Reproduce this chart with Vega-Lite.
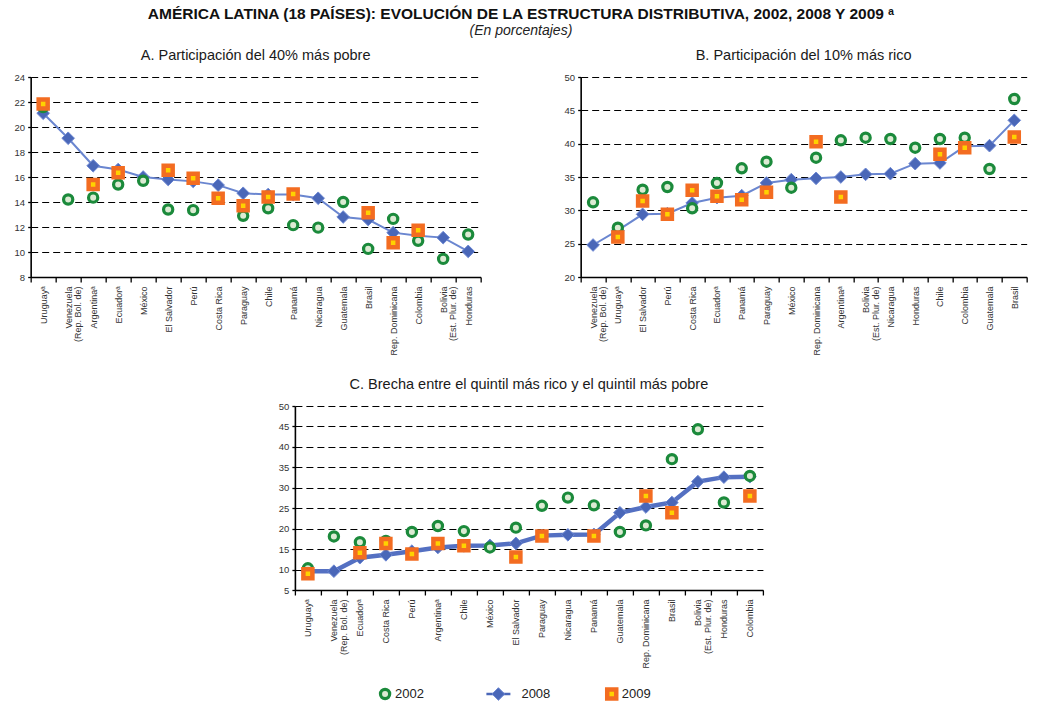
{
  "$schema": "https://vega.github.io/schema/vega-lite/v6.json",
  "background": "white",
  "padding": {"left": 14, "top": 7, "right": 5, "bottom": 0},
  "title": {
    "text": "AMÉRICA LATINA (18 PAÍSES): EVOLUCIÓN DE LA ESTRUCTURA DISTRIBUTIVA, 2002, 2008 Y 2009 ᵃ",
    "subtitle": "(En porcentajes)",
    "font": "Liberation Sans",
    "fontSize": 15.5,
    "fontWeight": "bold",
    "color": "#111",
    "subtitleFont": "Liberation Sans",
    "subtitleFontSize": 14,
    "subtitleFontStyle": "italic",
    "subtitleColor": "#222",
    "subtitlePadding": 1,
    "anchor": "middle",
    "offset": 10
  },
  "data": {
    "values": [
      {"p": "A", "c": "Uruguayᵃ", "y": "2008", "v": 21.1},
      {"p": "A", "c": "Venezuela|(Rep. Bol. de)", "y": "2008", "v": 19.1},
      {"p": "A", "c": "Argentinaᵃ", "y": "2008", "v": 16.9},
      {"p": "A", "c": "Ecuadorᵃ", "y": "2008", "v": 16.6},
      {"p": "A", "c": "México", "y": "2008", "v": 16.0},
      {"p": "A", "c": "El Salvador", "y": "2008", "v": 15.8},
      {"p": "A", "c": "Perú", "y": "2008", "v": 15.65},
      {"p": "A", "c": "Costa Rica", "y": "2008", "v": 15.35},
      {"p": "A", "c": "Paraguay", "y": "2008", "v": 14.7},
      {"p": "A", "c": "Chile", "y": "2008", "v": 14.6},
      {"p": "A", "c": "Panamá", "y": "2008", "v": 14.6},
      {"p": "A", "c": "Nicaragua", "y": "2008", "v": 14.3},
      {"p": "A", "c": "Guatemala", "y": "2008", "v": 12.8},
      {"p": "A", "c": "Brasil", "y": "2008", "v": 12.6},
      {"p": "A", "c": "Rep. Dominicana", "y": "2008", "v": 11.55},
      {"p": "A", "c": "Colombia", "y": "2008", "v": 11.3},
      {"p": "A", "c": "Bolivia|(Est. Plur. de)", "y": "2008", "v": 11.15},
      {"p": "A", "c": "Honduras", "y": "2008", "v": 10.05},
      {"p": "B", "c": "Venezuela|(Rep. Bol. de)", "y": "2008", "v": 24.8},
      {"p": "B", "c": "Uruguayᵃ", "y": "2008", "v": 27.0},
      {"p": "B", "c": "El Salvador", "y": "2008", "v": 29.4},
      {"p": "B", "c": "Perú", "y": "2008", "v": 29.5},
      {"p": "B", "c": "Costa Rica", "y": "2008", "v": 31.1},
      {"p": "B", "c": "Ecuadorᵃ", "y": "2008", "v": 31.9},
      {"p": "B", "c": "Panamá", "y": "2008", "v": 32.2},
      {"p": "B", "c": "Paraguay", "y": "2008", "v": 34.1},
      {"p": "B", "c": "México", "y": "2008", "v": 34.6},
      {"p": "B", "c": "Rep. Dominicana", "y": "2008", "v": 34.8},
      {"p": "B", "c": "Argentinaᵃ", "y": "2008", "v": 35.0},
      {"p": "B", "c": "Bolivia|(Est. Plur. de)", "y": "2008", "v": 35.4},
      {"p": "B", "c": "Nicaragua", "y": "2008", "v": 35.5},
      {"p": "B", "c": "Honduras", "y": "2008", "v": 37.0},
      {"p": "B", "c": "Chile", "y": "2008", "v": 37.1},
      {"p": "B", "c": "Colombia", "y": "2008", "v": 39.6},
      {"p": "B", "c": "Guatemala", "y": "2008", "v": 39.7},
      {"p": "B", "c": "Brasil", "y": "2008", "v": 43.5},
      {"p": "C", "c": "Uruguayᵃ", "y": "2008", "v": 9.6},
      {"p": "C", "c": "Venezuela|(Rep. Bol. de)", "y": "2008", "v": 9.6},
      {"p": "C", "c": "Ecuadorᵃ", "y": "2008", "v": 12.9},
      {"p": "C", "c": "Costa Rica", "y": "2008", "v": 13.6},
      {"p": "C", "c": "Perú", "y": "2008", "v": 14.5},
      {"p": "C", "c": "Argentinaᵃ", "y": "2008", "v": 15.4},
      {"p": "C", "c": "Chile", "y": "2008", "v": 15.8},
      {"p": "C", "c": "México", "y": "2008", "v": 15.9},
      {"p": "C", "c": "El Salvador", "y": "2008", "v": 16.4},
      {"p": "C", "c": "Paraguay", "y": "2008", "v": 18.3},
      {"p": "C", "c": "Nicaragua", "y": "2008", "v": 18.5},
      {"p": "C", "c": "Panamá", "y": "2008", "v": 18.6},
      {"p": "C", "c": "Guatemala", "y": "2008", "v": 23.9},
      {"p": "C", "c": "Rep. Dominicana", "y": "2008", "v": 25.3},
      {"p": "C", "c": "Brasil", "y": "2008", "v": 26.4},
      {"p": "C", "c": "Bolivia|(Est. Plur. de)", "y": "2008", "v": 31.5},
      {"p": "C", "c": "Honduras", "y": "2008", "v": 32.6},
      {"p": "C", "c": "Colombia", "y": "2008", "v": 32.7},

      {"p": "A", "c": "Uruguayᵃ", "y": "2002", "v": 21.6},
      {"p": "A", "c": "Venezuela|(Rep. Bol. de)", "y": "2002", "v": 14.2},
      {"p": "A", "c": "Argentinaᵃ", "y": "2002", "v": 14.35},
      {"p": "A", "c": "Ecuadorᵃ", "y": "2002", "v": 15.4},
      {"p": "A", "c": "México", "y": "2002", "v": 15.7},
      {"p": "A", "c": "El Salvador", "y": "2002", "v": 13.4},
      {"p": "A", "c": "Perú", "y": "2002", "v": 13.35},
      {"p": "A", "c": "Paraguay", "y": "2002", "v": 12.9},
      {"p": "A", "c": "Chile", "y": "2002", "v": 13.5},
      {"p": "A", "c": "Panamá", "y": "2002", "v": 12.15},
      {"p": "A", "c": "Nicaragua", "y": "2002", "v": 11.95},
      {"p": "A", "c": "Guatemala", "y": "2002", "v": 14.0},
      {"p": "A", "c": "Brasil", "y": "2002", "v": 10.25},
      {"p": "A", "c": "Rep. Dominicana", "y": "2002", "v": 12.65},
      {"p": "A", "c": "Colombia", "y": "2002", "v": 10.9},
      {"p": "A", "c": "Bolivia|(Est. Plur. de)", "y": "2002", "v": 9.45},
      {"p": "A", "c": "Honduras", "y": "2002", "v": 11.4},
      {"p": "B", "c": "Venezuela|(Rep. Bol. de)", "y": "2002", "v": 31.2},
      {"p": "B", "c": "Uruguayᵃ", "y": "2002", "v": 27.4},
      {"p": "B", "c": "El Salvador", "y": "2002", "v": 33.1},
      {"p": "B", "c": "Perú", "y": "2002", "v": 33.5},
      {"p": "B", "c": "Costa Rica", "y": "2002", "v": 30.3},
      {"p": "B", "c": "Ecuadorᵃ", "y": "2002", "v": 34.1},
      {"p": "B", "c": "Panamá", "y": "2002", "v": 36.3},
      {"p": "B", "c": "Paraguay", "y": "2002", "v": 37.3},
      {"p": "B", "c": "México", "y": "2002", "v": 33.4},
      {"p": "B", "c": "Rep. Dominicana", "y": "2002", "v": 37.9},
      {"p": "B", "c": "Argentinaᵃ", "y": "2002", "v": 40.5},
      {"p": "B", "c": "Bolivia|(Est. Plur. de)", "y": "2002", "v": 40.9},
      {"p": "B", "c": "Nicaragua", "y": "2002", "v": 40.7},
      {"p": "B", "c": "Honduras", "y": "2002", "v": 39.4},
      {"p": "B", "c": "Chile", "y": "2002", "v": 40.7},
      {"p": "B", "c": "Colombia", "y": "2002", "v": 40.9},
      {"p": "B", "c": "Guatemala", "y": "2002", "v": 36.2},
      {"p": "B", "c": "Brasil", "y": "2002", "v": 46.7},
      {"p": "C", "c": "Uruguayᵃ", "y": "2002", "v": 10.3},
      {"p": "C", "c": "Venezuela|(Rep. Bol. de)", "y": "2002", "v": 18.1},
      {"p": "C", "c": "Ecuadorᵃ", "y": "2002", "v": 16.7},
      {"p": "C", "c": "Costa Rica", "y": "2002", "v": 17.0},
      {"p": "C", "c": "Perú", "y": "2002", "v": 19.2},
      {"p": "C", "c": "Argentinaᵃ", "y": "2002", "v": 20.65},
      {"p": "C", "c": "Chile", "y": "2002", "v": 19.4},
      {"p": "C", "c": "México", "y": "2002", "v": 15.4},
      {"p": "C", "c": "El Salvador", "y": "2002", "v": 20.25},
      {"p": "C", "c": "Paraguay", "y": "2002", "v": 25.6},
      {"p": "C", "c": "Nicaragua", "y": "2002", "v": 27.6},
      {"p": "C", "c": "Panamá", "y": "2002", "v": 25.7},
      {"p": "C", "c": "Guatemala", "y": "2002", "v": 19.2},
      {"p": "C", "c": "Rep. Dominicana", "y": "2002", "v": 20.8},
      {"p": "C", "c": "Brasil", "y": "2002", "v": 37.0},
      {"p": "C", "c": "Bolivia|(Est. Plur. de)", "y": "2002", "v": 44.3},
      {"p": "C", "c": "Honduras", "y": "2002", "v": 26.4},
      {"p": "C", "c": "Colombia", "y": "2002", "v": 32.9},

      {"p": "A", "c": "Uruguayᵃ", "y": "2009", "v": 21.85},
      {"p": "A", "c": "Argentinaᵃ", "y": "2009", "v": 15.4},
      {"p": "A", "c": "Ecuadorᵃ", "y": "2009", "v": 16.35},
      {"p": "A", "c": "El Salvador", "y": "2009", "v": 16.55},
      {"p": "A", "c": "Perú", "y": "2009", "v": 15.9},
      {"p": "A", "c": "Costa Rica", "y": "2009", "v": 14.3},
      {"p": "A", "c": "Paraguay", "y": "2009", "v": 13.7},
      {"p": "A", "c": "Chile", "y": "2009", "v": 14.4},
      {"p": "A", "c": "Panamá", "y": "2009", "v": 14.65},
      {"p": "A", "c": "Brasil", "y": "2009", "v": 13.15},
      {"p": "A", "c": "Rep. Dominicana", "y": "2009", "v": 10.75},
      {"p": "A", "c": "Colombia", "y": "2009", "v": 11.75},
      {"p": "B", "c": "Uruguayᵃ", "y": "2009", "v": 26.0},
      {"p": "B", "c": "El Salvador", "y": "2009", "v": 31.4},
      {"p": "B", "c": "Perú", "y": "2009", "v": 29.4},
      {"p": "B", "c": "Costa Rica", "y": "2009", "v": 33.0},
      {"p": "B", "c": "Ecuadorᵃ", "y": "2009", "v": 32.1},
      {"p": "B", "c": "Panamá", "y": "2009", "v": 31.6},
      {"p": "B", "c": "Paraguay", "y": "2009", "v": 32.7},
      {"p": "B", "c": "Rep. Dominicana", "y": "2009", "v": 40.3},
      {"p": "B", "c": "Argentinaᵃ", "y": "2009", "v": 32.0},
      {"p": "B", "c": "Chile", "y": "2009", "v": 38.4},
      {"p": "B", "c": "Colombia", "y": "2009", "v": 39.4},
      {"p": "B", "c": "Brasil", "y": "2009", "v": 41.0},
      {"p": "C", "c": "Uruguayᵃ", "y": "2009", "v": 9.0},
      {"p": "C", "c": "Ecuadorᵃ", "y": "2009", "v": 14.1},
      {"p": "C", "c": "Costa Rica", "y": "2009", "v": 16.4},
      {"p": "C", "c": "Perú", "y": "2009", "v": 13.8},
      {"p": "C", "c": "Argentinaᵃ", "y": "2009", "v": 16.4},
      {"p": "C", "c": "Chile", "y": "2009", "v": 15.8},
      {"p": "C", "c": "El Salvador", "y": "2009", "v": 13.1},
      {"p": "C", "c": "Paraguay", "y": "2009", "v": 18.2},
      {"p": "C", "c": "Panamá", "y": "2009", "v": 18.2},
      {"p": "C", "c": "Rep. Dominicana", "y": "2009", "v": 28.0},
      {"p": "C", "c": "Brasil", "y": "2009", "v": 23.9},
      {"p": "C", "c": "Colombia", "y": "2009", "v": 28.0}
    ]
  },
  "config": {
    "font": "Liberation Sans",
    "view": {"stroke": null},
    "legend": {"disable": true},
    "title": {"font": "Liberation Sans", "fontSize": 14.5, "fontWeight": "normal", "color": "#1a1a1a", "offset": 9, "anchor": "middle"},
    "axis": {
      "labelFont": "Liberation Sans",
      "labelColor": "#333",
      "domainColor": "#000",
      "domainWidth": 1.6,
      "tickColor": "#000",
      "tickWidth": 1.3
    },
    "axisY": {
      "grid": true,
      "gridColor": "#000",
      "gridDash": [7, 4],
      "gridWidth": 1.2,
      "tickSize": 3,
      "labelFontSize": 9.5,
      "labelPadding": 3
    },
    "axisX": {
      "grid": false,
      "tickBand": "extent",
      "tickSize": 5,
      "labelAngle": 270,
      "labelAlign": "right",
      "labelBaseline": "middle",
      "labelFontSize": 9,
      "labelLineHeight": 9.5,
      "labelPadding": 4,
      "labelOverlap": false,
      "labelLimit": 200
    }
  },
  "spacing": 11,
  "center": true,
  "vconcat": [
    {
      "spacing": 20,
      "center": true,
      "vconcat": [
        {
          "spacing": 82,
          "hconcat": [
            {
              "title": "A. Participación del 40% más pobre",
              "width": 450,
              "height": 200,
              "transform": [{"filter": "datum.p == 'A'"}],
              "encoding": {
                "x": {
                  "field": "c", "type": "nominal", "title": null,
                  "sort": ["Uruguayᵃ", "Venezuela|(Rep. Bol. de)", "Argentinaᵃ", "Ecuadorᵃ", "México", "El Salvador", "Perú", "Costa Rica", "Paraguay", "Chile", "Panamá", "Nicaragua", "Guatemala", "Brasil", "Rep. Dominicana", "Colombia", "Bolivia|(Est. Plur. de)", "Honduras"],
                  "scale": {"type": "band", "paddingInner": 0, "paddingOuter": 0},
                  "axis": {"labelExpr": "split(datum.label, '|')"}
                },
                "y": {
                  "field": "v", "type": "quantitative", "title": null,
                  "scale": {"domain": [8, 24], "nice": false, "zero": false},
                  "axis": {"values": [8, 10, 12, 14, 16, 18, 20, 22, 24]}
                }
              },
              "layer": [
                {"transform": [{"filter": "datum.y == '2008'"}], "mark": {"type": "line", "color": "#6a86d0", "strokeWidth": 2}},
                {
                  "mark": {"type": "point", "filled": true, "opacity": 1},
                  "encoding": {
                    "fill": {"field": "y", "type": "nominal", "title": null, "scale": {"domain": ["2002", "2008", "2009"], "range": ["#dcebd3", "#4a67b8", "#ffd200"]}},
                    "shape": {"field": "y", "type": "nominal", "title": null, "scale": {"domain": ["2002", "2008", "2009"], "range": ["circle", "diamond", "square"]}},
                    "stroke": {"field": "y", "type": "nominal", "title": null, "scale": {"domain": ["2002", "2008", "2009"], "range": ["#1b8a3b", "#6d88d3", "#f36c21"]}},
                    "size": {"field": "y", "type": "nominal", "title": null, "scale": {"type": "ordinal", "domain": ["2002", "2008", "2009"], "range": [85, 160, 81]}},
                    "strokeWidth": {"field": "y", "type": "nominal", "title": null, "scale": {"type": "ordinal", "domain": ["2002", "2008", "2009"], "range": [3.2, 1, 4.5]}}
                  }
                }
              ]
            },
            {
              "title": "B. Participación del 10% más rico",
              "width": 446,
              "height": 200,
              "transform": [{"filter": "datum.p == 'B'"}],
              "encoding": {
                "x": {
                  "field": "c", "type": "nominal", "title": null,
                  "sort": ["Venezuela|(Rep. Bol. de)", "Uruguayᵃ", "El Salvador", "Perú", "Costa Rica", "Ecuadorᵃ", "Panamá", "Paraguay", "México", "Rep. Dominicana", "Argentinaᵃ", "Bolivia|(Est. Plur. de)", "Nicaragua", "Honduras", "Chile", "Colombia", "Guatemala", "Brasil"],
                  "scale": {"type": "band", "paddingInner": 0, "paddingOuter": 0},
                  "axis": {"labelExpr": "split(datum.label, '|')"}
                },
                "y": {
                  "field": "v", "type": "quantitative", "title": null,
                  "scale": {"domain": [20, 50], "nice": false, "zero": false},
                  "axis": {"values": [20, 25, 30, 35, 40, 45, 50]}
                }
              },
              "layer": [
                {"transform": [{"filter": "datum.y == '2008'"}], "mark": {"type": "line", "color": "#6a86d0", "strokeWidth": 2}},
                {
                  "mark": {"type": "point", "filled": true, "opacity": 1},
                  "encoding": {
                    "fill": {"field": "y", "type": "nominal", "title": null, "scale": {"domain": ["2002", "2008", "2009"], "range": ["#dcebd3", "#4a67b8", "#ffd200"]}},
                    "shape": {"field": "y", "type": "nominal", "title": null, "scale": {"domain": ["2002", "2008", "2009"], "range": ["circle", "diamond", "square"]}},
                    "stroke": {"field": "y", "type": "nominal", "title": null, "scale": {"domain": ["2002", "2008", "2009"], "range": ["#1b8a3b", "#6d88d3", "#f36c21"]}},
                    "size": {"field": "y", "type": "nominal", "title": null, "scale": {"type": "ordinal", "domain": ["2002", "2008", "2009"], "range": [85, 160, 81]}},
                    "strokeWidth": {"field": "y", "type": "nominal", "title": null, "scale": {"type": "ordinal", "domain": ["2002", "2008", "2009"], "range": [3.2, 1, 4.5]}}
                  }
                }
              ]
            }
          ]
        },
        {
          "title": "C. Brecha entre el quintil más rico y el quintil más pobre",
          "width": 468,
          "height": 184,
          "transform": [{"filter": "datum.p == 'C'"}],
          "encoding": {
            "x": {
              "field": "c", "type": "nominal", "title": null,
              "sort": ["Uruguayᵃ", "Venezuela|(Rep. Bol. de)", "Ecuadorᵃ", "Costa Rica", "Perú", "Argentinaᵃ", "Chile", "México", "El Salvador", "Paraguay", "Nicaragua", "Panamá", "Guatemala", "Rep. Dominicana", "Brasil", "Bolivia|(Est. Plur. de)", "Honduras", "Colombia"],
              "scale": {"type": "band", "paddingInner": 0, "paddingOuter": 0},
              "axis": {"labelExpr": "split(datum.label, '|')"}
            },
            "y": {
              "field": "v", "type": "quantitative", "title": null,
              "scale": {"domain": [5, 50], "nice": false, "zero": false},
              "axis": {"values": [5, 10, 15, 20, 25, 30, 35, 40, 45, 50]}
            }
          },
          "layer": [
            {"transform": [{"filter": "datum.y == '2008'"}], "mark": {"type": "line", "color": "#5470c2", "strokeWidth": 4.5}},
            {
              "mark": {"type": "point", "filled": true, "opacity": 1},
              "encoding": {
                "fill": {"field": "y", "type": "nominal", "title": null, "scale": {"domain": ["2002", "2008", "2009"], "range": ["#dcebd3", "#4a67b8", "#ffd200"]}},
                "shape": {"field": "y", "type": "nominal", "title": null, "scale": {"domain": ["2002", "2008", "2009"], "range": ["circle", "diamond", "square"]}},
                "stroke": {"field": "y", "type": "nominal", "title": null, "scale": {"domain": ["2002", "2008", "2009"], "range": ["#1b8a3b", "#6d88d3", "#f36c21"]}},
                "size": {"field": "y", "type": "nominal", "title": null, "scale": {"type": "ordinal", "domain": ["2002", "2008", "2009"], "range": [85, 160, 81]}},
                "strokeWidth": {"field": "y", "type": "nominal", "title": null, "scale": {"type": "ordinal", "domain": ["2002", "2008", "2009"], "range": [3.2, 1, 4.5]}}
              }
            }
          ]
        }
      ]
    },
    {
      "width": 340,
      "height": 4,
      "data": {"values": [{"y": "2002"}, {"y": "2008"}, {"y": "2009"}]},
      "encoding": {
        "x": {
          "field": "y", "type": "nominal", "title": null, "bandPosition": 0.23,
          "scale": {"type": "band", "domain": ["2002", "2008", "2009"], "paddingInner": 0, "paddingOuter": 0},
          "axis": null
        }
      },
      "layer": [
        {"transform": [{"filter": "datum.y == '2008'"}], "mark": {"type": "point", "shape": "M-1,0L1,0", "size": 576, "filled": false, "strokeWidth": 2.5, "color": "#4a67b8", "opacity": 1}},
        {
          "mark": {"type": "point", "filled": true, "opacity": 1},
          "encoding": {
            "fill": {"field": "y", "type": "nominal", "title": null, "scale": {"domain": ["2002", "2008", "2009"], "range": ["#dcebd3", "#4a67b8", "#ffd200"]}},
            "shape": {"field": "y", "type": "nominal", "title": null, "scale": {"domain": ["2002", "2008", "2009"], "range": ["circle", "diamond", "square"]}},
            "stroke": {"field": "y", "type": "nominal", "title": null, "scale": {"domain": ["2002", "2008", "2009"], "range": ["#1b8a3b", "#6d88d3", "#f36c21"]}},
            "size": {"field": "y", "type": "nominal", "title": null, "scale": {"type": "ordinal", "domain": ["2002", "2008", "2009"], "range": [85, 160, 81]}},
            "strokeWidth": {"field": "y", "type": "nominal", "title": null, "scale": {"type": "ordinal", "domain": ["2002", "2008", "2009"], "range": [3.2, 1, 4.5]}}
          }
        },
        {
          "transform": [{"filter": "datum.y != '2008'"}],
          "mark": {"type": "text", "align": "left", "baseline": "middle", "dx": 10, "font": "Liberation Sans", "fontSize": 13, "color": "#222"},
          "encoding": {"text": {"field": "y"}}
        },
        {
          "transform": [{"filter": "datum.y == '2008'"}],
          "mark": {"type": "text", "align": "left", "baseline": "middle", "dx": 23, "font": "Liberation Sans", "fontSize": 13, "color": "#222"},
          "encoding": {"text": {"field": "y"}}
        }
      ]
    }
  ]
}
